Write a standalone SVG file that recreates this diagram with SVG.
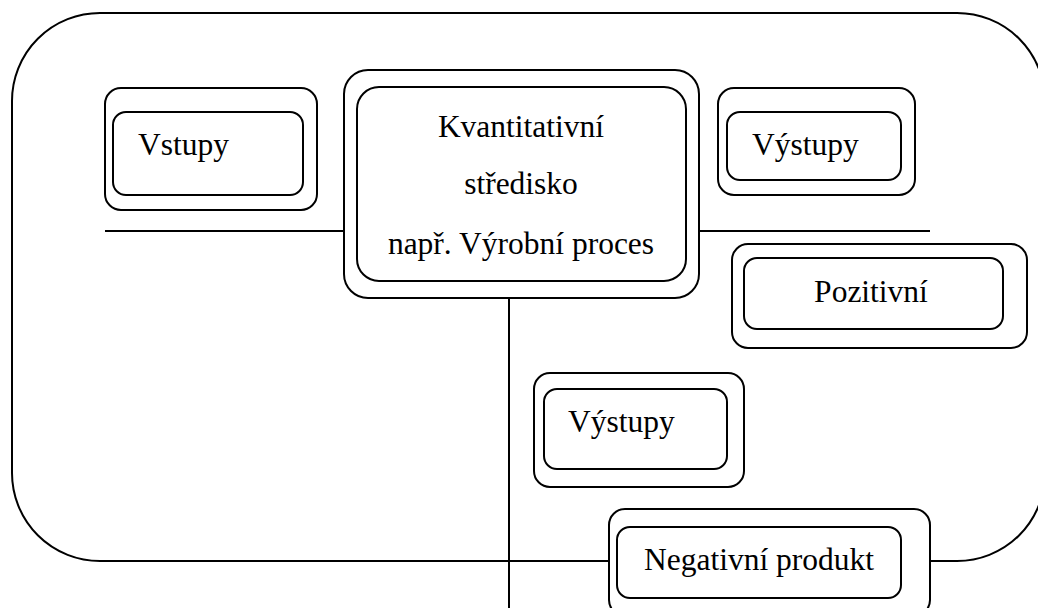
<svg xmlns="http://www.w3.org/2000/svg" width="1038" height="608" viewBox="0 0 1038 608">
<style>
.ln{stroke:#000;stroke-width:2;fill:none}
.bx{stroke:#000;stroke-width:2;fill:#fff}
.in{stroke:#000;stroke-width:2;fill:none}
text{font-family:"Liberation Serif","Times New Roman",serif;font-size:31.5px;fill:#000}
</style>
<rect width="1038" height="608" fill="#fff"/>
<g id="frame">
<rect class="ln" x="12" y="13" width="1033" height="548" rx="88" ry="88"/>
</g>
<g id="connectors">
<line class="ln" x1="105" y1="231" x2="345" y2="231"/>
<line class="ln" x1="698" y1="231" x2="930" y2="231"/>
<line class="ln" x1="509" y1="297" x2="509" y2="608"/>
</g>
<g id="vstupy">
<rect class="bx" x="105" y="88" width="212" height="122" rx="16"/>
<rect class="in" x="113" y="112" width="190" height="83" rx="13"/>
<text x="138" y="155">Vstupy</text>
</g>
<g id="stredisko">
<rect class="bx" x="344" y="70" width="355" height="228" rx="24"/>
<rect class="in" x="357" y="87" width="329" height="194" rx="22"/>
<text x="521" y="137" text-anchor="middle">Kvantitativní</text>
<text x="521" y="194" text-anchor="middle">středisko</text>
<text x="521" y="254" text-anchor="middle">např. Výrobní proces</text>
</g>
<g id="vystupy1">
<rect class="bx" x="718" y="88" width="197" height="107" rx="16"/>
<rect class="in" x="727" y="112" width="174" height="68" rx="13"/>
<text x="752" y="155">Výstupy</text>
</g>
<g id="pozitivni">
<rect class="bx" x="732" y="244" width="295" height="104" rx="16"/>
<rect class="in" x="744" y="258" width="259" height="71" rx="13"/>
<text x="871" y="302" text-anchor="middle">Pozitivní</text>
</g>
<g id="vystupy2">
<rect class="bx" x="534" y="373" width="210" height="114" rx="16"/>
<rect class="in" x="544" y="389" width="183" height="80" rx="13"/>
<text x="568" y="432">Výstupy</text>
</g>
<g id="negativni">
<rect class="bx" x="609" y="509" width="321" height="107" rx="16"/>
<rect class="in" x="617" y="527" width="284" height="71" rx="13"/>
<text x="759" y="570" text-anchor="middle">Negativní produkt</text>
</g>
</svg>
